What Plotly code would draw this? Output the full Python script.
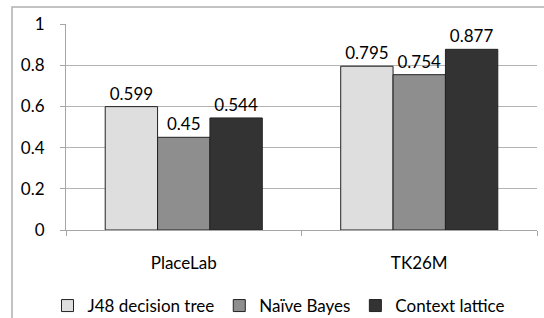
import plotly.graph_objects as go

categories = ["PlaceLab", "TK26M"]
series_names = ["J48 decision tree", "Naïve Bayes", "Context lattice"]
j48 = [0.599, 0.795]
naive_bayes = [0.45, 0.754]
context_lattice = [0.544, 0.877]
y_ticks = [0, 0.2, 0.4, 0.6, 0.8, 1]
y_tick_labels = ["0", "0.2", "0.4", "0.6", "0.8", "1"]

colors = ["#dedede", "#8e8e8e", "#333333"]
FONT = "Lato"
FS = 17

fig = go.Figure()
for name, vals, col in zip(series_names, [j48, naive_bayes, context_lattice], colors):
    fig.add_trace(go.Bar(
        x=categories, y=vals, name=name,
        marker=dict(color=col, line=dict(color="#222222", width=1)),
        text=[f"{v:g}" for v in vals], textposition="outside",
        textfont=dict(family=FONT, size=FS, color="#000000"),
        cliponaxis=False,
    ))

W, H = 544, 318
l, r, t, b = 66, 7, 24, 88
pw, ph = W - l - r, H - t - b

fig.update_layout(
    width=W, height=H,
    margin=dict(l=l, r=r, t=t, b=b, autoexpand=False),
    paper_bgcolor="white", plot_bgcolor="white",
    barmode="group", bargap=0.333, bargroupgap=0,
    font=dict(family=FONT, size=FS, color="#000000"),
    showlegend=True,
    legend=dict(orientation="h", x=(279 - l) / pw, xanchor="center", y=-(306 - 230) / ph, yanchor="middle",
                font=dict(family=FONT, size=FS), traceorder="normal"),
    xaxis=dict(
        showline=True, linecolor="#a6a6a6", linewidth=1,
        ticks="outside", ticklen=5, tickcolor="#a6a6a6",
        tickson="boundaries", showgrid=False, automargin=False,
        tickfont=dict(family=FONT, size=FS), ticklabelstandoff=18,
    ),
    yaxis=dict(
        range=[0, 1], tickvals=y_ticks, ticktext=y_tick_labels,
        showline=True, linecolor="#a6a6a6", linewidth=1,
        ticks="outside", ticklen=5, tickcolor="#a6a6a6",
        showgrid=True, gridcolor="#b3b3b3", gridwidth=1,
        zeroline=False, ticklabelstandoff=12, automargin=False,
        tickfont=dict(family=FONT, size=FS),
    ),
    shapes=[dict(
        type="rect", xref="paper", yref="paper",
        x0=(12 - l) / pw, x1=1.2, y0=-1.0, y1=(230 - 7) / ph,
        line=dict(color="#b0b0b0", width=1.5), fillcolor="rgba(0,0,0,0)", layer="below",
    )],
)

fig.write_html("out.html", config={"displayModeBar": False},
               post_script="document.body.style.margin='0';document.body.style.overflow='hidden';")
